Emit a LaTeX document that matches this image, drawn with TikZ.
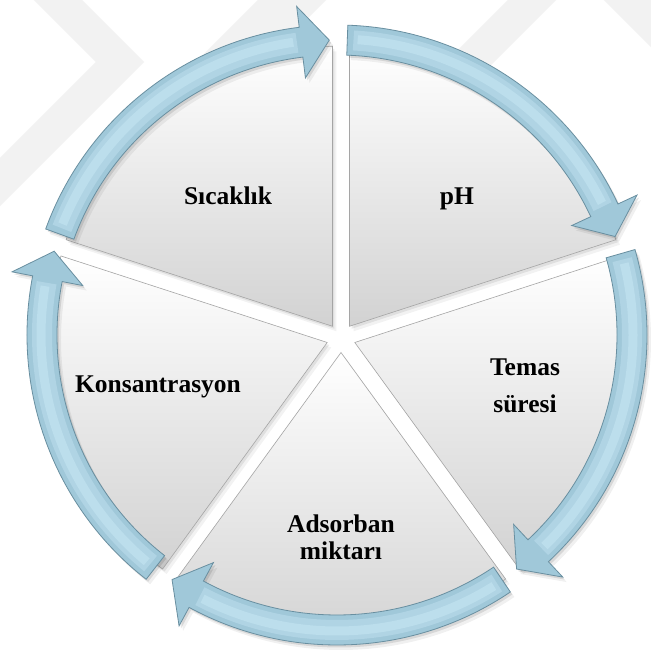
\documentclass[tikz,border=0pt]{standalone}
\usepackage{fontspec}
\setmainfont{Liberation Serif}
\usetikzlibrary{calc}
\definecolor{arrowfill}{RGB}{160,200,217}
\definecolor{arrowmid}{RGB}{176,212,228}
\definecolor{arrowhi}{RGB}{188,222,236}
\definecolor{arrowline}{RGB}{105,143,160}
\definecolor{segline}{RGB}{165,165,165}
\definecolor{segbot}{RGB}{210,210,210}
\definecolor{wm}{RGB}{242,242,242}
\newcommand\drawseg[2]{%
  \coordinate (#2) at ($(C)+(#1:14.5)$);
  \fill[black,opacity=0.05] ($(#2)+(4,-5)$) -- ++({#1-36}:280) arc[start angle={#1-36}, end angle={#1+36}, radius=280pt] -- cycle;
  \fill[black,opacity=0.08] ($(#2)+(2,-2.5)$) -- ++({#1-36}:280) arc[start angle={#1-36}, end angle={#1+36}, radius=280pt] -- cycle;
  \shadedraw[segstyle] (#2) -- ++({#1-36}:280) arc[start angle={#1-36}, end angle={#1+36}, radius=280pt] -- cycle;
}
\newcommand\drawarrow[3]{%
  \pgfmathsetmacro\hb{#2+5.5}%
  \coordinate (#3) at ($(O)+(#2:295)$);
  \fill[black,opacity=0.06] ($(O)+(#1:310)+(4,-5)$) arc[start angle=#1, end angle=\hb, radius=310pt] -- ($(O)+(\hb:331)+(4,-5)$) -- ($(#3)+(4,-5)$) -- ($(O)+(\hb:259)+(4,-5)$) -- ($(O)+(\hb:280)+(4,-5)$) arc[start angle=\hb, end angle=#1, radius=280pt] -- cycle;
  \fill[black,opacity=0.10] ($(O)+(#1:310)+(2,-2.5)$) arc[start angle=#1, end angle=\hb, radius=310pt] -- ($(O)+(\hb:331)+(2,-2.5)$) -- ($(#3)+(2,-2.5)$) -- ($(O)+(\hb:259)+(2,-2.5)$) -- ($(O)+(\hb:280)+(2,-2.5)$) arc[start angle=\hb, end angle=#1, radius=280pt] -- cycle;
  \path[arrowstyle] ($(O)+(#1:310)$) arc[start angle=#1, end angle=\hb, radius=310pt] -- ($(O)+(\hb:331)$) -- (#3) -- ($(O)+(\hb:259)$) -- ($(O)+(\hb:280)$) arc[start angle=\hb, end angle=#1, radius=280pt] -- cycle;
  \draw[arrowmid, line width=20pt] ($(O)+({#1-1.2}:295)$) arc[start angle={#1-1.2}, end angle={\hb+0.8}, radius=295pt];
  \draw[arrowhi, line width=9pt] ($(O)+({#1-2}:296)$) arc[start angle={#1-2}, end angle={\hb+1.5}, radius=296pt];
}
\begin{document}
\begin{tikzpicture}[x=1pt,y=1pt,
  lbl/.style={font=\bfseries\fontsize{25.5}{30}\selectfont, anchor=base, inner sep=0pt},
  segstyle/.style={top color=white, bottom color=segbot, draw=segline, line width=0.6pt},
  arrowstyle/.style={fill=arrowfill, draw=arrowline, line width=0.8pt},
  wmband/.style={draw=wm, line width=34pt}]
\useasboundingbox (0,0) rectangle (651,662);
\fill[white] (0,0) rectangle (651,662);
% faint watermark
\draw[wmband] (40,680) -- (120,600) -- (-20,460);
\draw[wmband] (300,680) -- (190,570);
\draw[wmband] (330,690) -- (180,540);
\draw[wmband] (560,690) -- (470,600);
\draw[wmband] (600,690) -- (680,610);
\coordinate (C) at (341,324);
\coordinate (O) at (337,327);
\drawseg{54}{segpH}
\drawseg{-18}{segTemas}
\drawseg{-90}{segAds}
\drawseg{-162}{segKons}
\drawseg{126}{segSic}
\drawarrow{88}{19.5}{tippH}
\drawarrow{16}{-52.5}{tipTemas}
\drawarrow{-56}{-124}{tipAds}
\drawarrow{-128}{-196.5}{tipKons}
\drawarrow{160}{91.5}{tipSic}
\node[lbl] (tSic) at (228,457) {Sıcaklık};
\node[lbl] (tpH) at (457,457) {pH};
\node[lbl] (tTemas) at (525,286) {Temas};
\node[lbl] (tSure) at (525,249) {süresi};
\node[lbl] (tKons) at (158,269) {Konsantrasyon};
\node[lbl] (tAds) at (341,129) {Adsorban};
\node[lbl] (tMik) at (341,102) {miktarı};
\end{tikzpicture}
\end{document}
